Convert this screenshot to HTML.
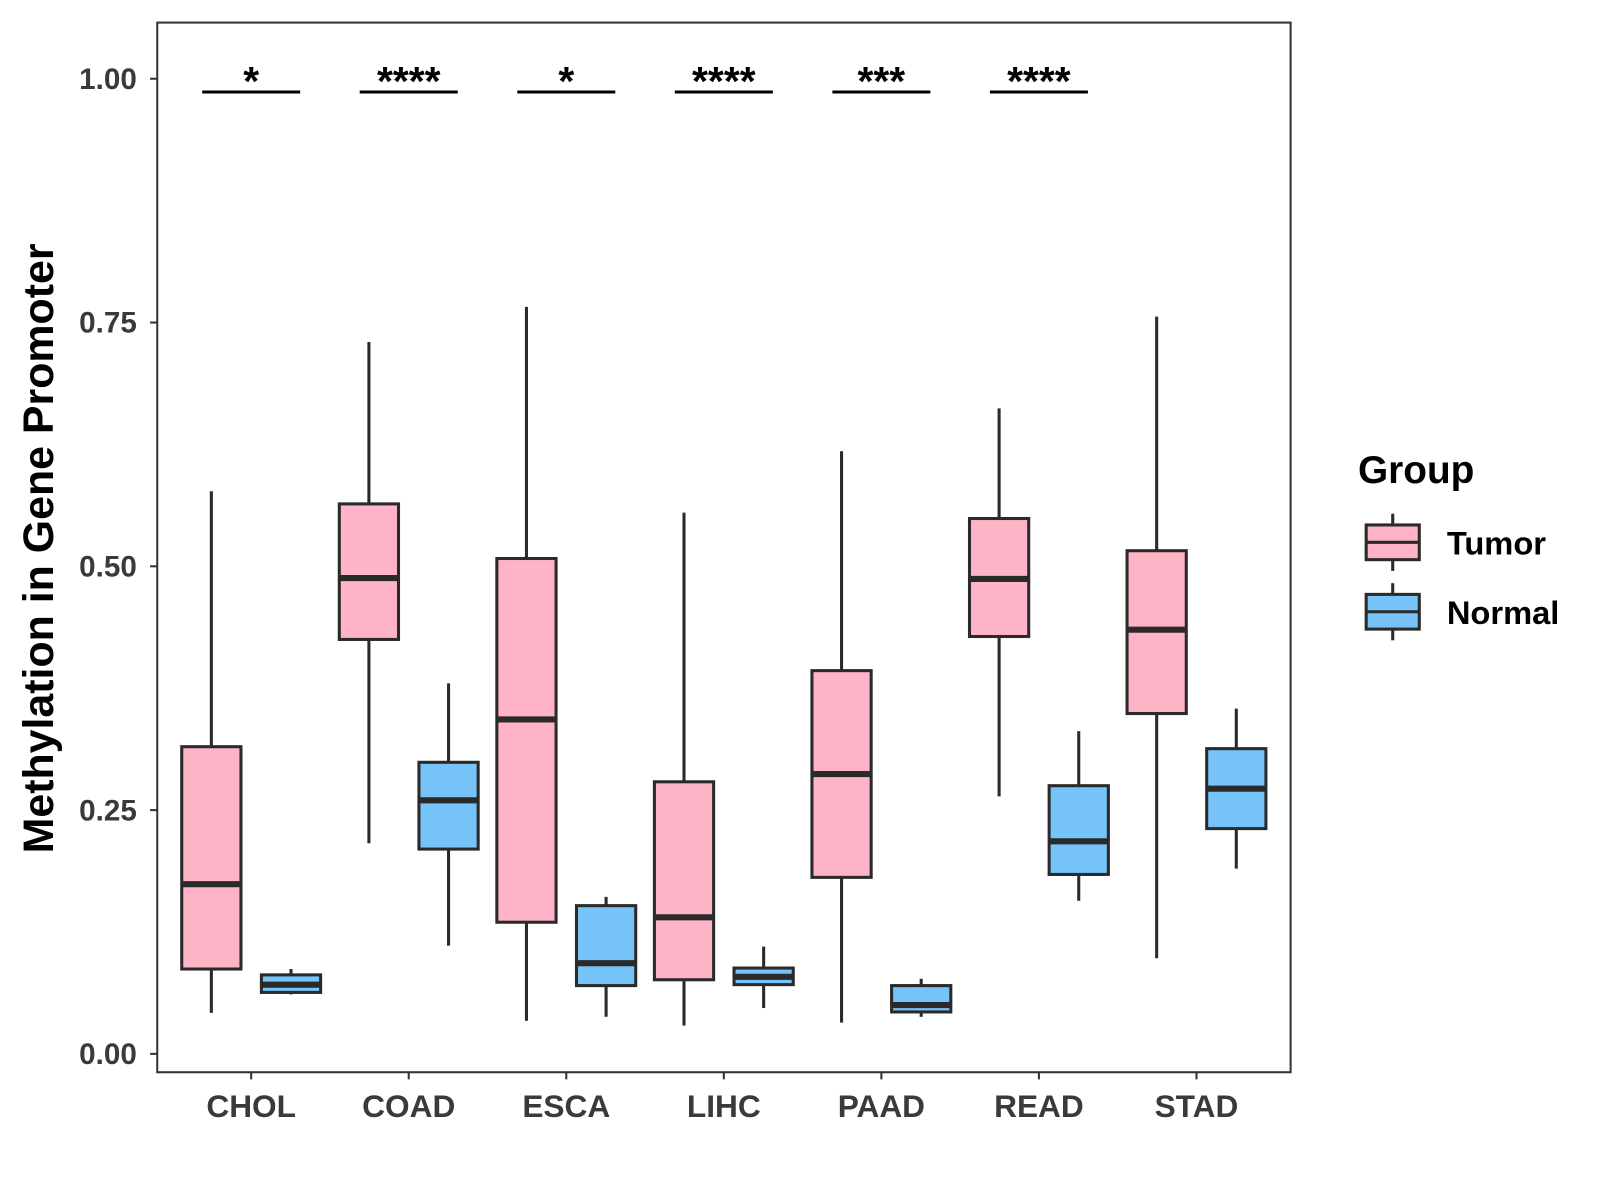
<!DOCTYPE html>
<html><head><meta charset="utf-8"><style>html,body{margin:0;padding:0;background:#fff}svg{display:block}</style></head>
<body>
<svg id="chart" width="1600" height="1200" viewBox="0 0 1567 1175" xmlns="http://www.w3.org/2000/svg" font-family="Liberation Sans, Arial, sans-serif">
<rect x="154" y="22" width="1110" height="1028" fill="#fff" stroke="#333" stroke-width="2"/>
<g id="marks"></g>
<text transform="translate(52,537) rotate(-90)" text-anchor="middle" font-size="42" font-weight="bold" fill="#000">Methylation in Gene Promoter</text>
<g>
<text x="1330" y="473" font-size="38" font-weight="bold">Group</text>
<g>
<line x1="1364" y1="503" x2="1364" y2="559" stroke="#2a2a2a" stroke-width="3"/>
<rect x="1338" y="514" width="52" height="34" fill="#FFB3C6" stroke="#2a2a2a" stroke-width="3"/>
<line x1="1338" y1="531" x2="1390" y2="531" stroke="#2a2a2a" stroke-width="3"/>
<text x="1417" y="543" font-size="32" font-weight="bold">Tumor</text></g>
<g>
<line x1="1364" y1="571" x2="1364" y2="627" stroke="#2a2a2a" stroke-width="3"/>
<rect x="1338" y="582" width="52" height="34" fill="#76C3F8" stroke="#2a2a2a" stroke-width="3"/>
<line x1="1338" y1="599" x2="1390" y2="599" stroke="#2a2a2a" stroke-width="3"/>
<text x="1417" y="611" font-size="32" font-weight="bold">Normal</text></g>
</g>
</svg>
<script>
const categories=["CHOL","COAD","ESCA","LIHC","PAAD","READ","STAD"];
const tumorStats=[[0.042,0.087,0.174,0.315,0.577],[0.216,0.425,0.488,0.564,0.730],[0.034,0.135,0.343,0.508,0.766],[0.029,0.076,0.140,0.279,0.555],[0.032,0.181,0.287,0.393,0.618],[0.264,0.428,0.487,0.549,0.662],[0.098,0.349,0.435,0.516,0.756]];
const normalStats=[[0.061,0.063,0.071,0.081,0.087],[0.111,0.210,0.260,0.299,0.380],[0.038,0.070,0.093,0.152,0.161],[0.047,0.071,0.079,0.088,0.110],[0.038,0.043,0.050,0.070,0.077],[0.157,0.184,0.218,0.275,0.331],[0.190,0.231,0.272,0.313,0.354]];
const significance=["*","****","*","****","***","****"];
const yTicks=[0,0.25,0.5,0.75,1.0];
const yTickLabels=["0.00","0.25","0.50","0.75","1.00"];
const NS="http://www.w3.org/2000/svg";
const g=document.getElementById('marks');
function y(v){return 1032-v*955;}
function x(i){return 246+i*154.3;}
function el(t,a,p){const e=document.createElementNS(NS,t);for(const k in a)e.setAttribute(k,a[k]);(p||g).appendChild(e);return e;}
yTicks.forEach((v,i)=>{
 const t=el('line',{x1:147,x2:154,y1:y(v),y2:y(v),stroke:'#333','stroke-width':2});
 
 
 const l=el('text',{x:134,y:y(v)+10,'text-anchor':'end','font-size':29,'font-weight':'bold',fill:'#3a3a3a'});
 l.textContent=yTickLabels[i];
 
 
});
categories.forEach((c,i)=>{
 const cx=x(i);
 const t=el('line',{x1:cx,x2:cx,y1:1050,y2:1057,stroke:'#333','stroke-width':2});
 
 
 const l=el('text',{x:cx,y:1094,'text-anchor':'middle','font-size':31,'font-weight':'bold',fill:'#3a3a3a'});
 l.textContent=c;
 
 
 [[tumorStats[i],-39,'#FFB3C6','tumor'],[normalStats[i],39,'#76C3F8','normal']].forEach(([s,off,col,nm])=>{
  const bx=cx+off, w=58;
  const grp=el('g',{});
  
  
  el('line',{x1:bx,x2:bx,y1:y(s[0]),y2:y(s[4]),stroke:'#2a2a2a','stroke-width':3},grp);
  el('rect',{x:bx-w/2,y:y(s[3]),width:w,height:y(s[1])-y(s[3]),fill:col,stroke:'#2a2a2a','stroke-width':3},grp);
  el('line',{x1:bx-w/2,x2:bx+w/2,y1:y(s[2]),y2:y(s[2]),stroke:'#2a2a2a','stroke-width':6},grp);
 });
 if(i<significance.length){
  const b=el('line',{x1:cx-48,x2:cx+48,y1:90,y2:90,stroke:'#000','stroke-width':3});
  
  
  const s=el('text',{x:cx,y:93,'text-anchor':'middle','font-size':40,'font-weight':'bold',fill:'#000'});
  s.textContent=significance[i];
  
  
 }
});
</script>
</body></html>
